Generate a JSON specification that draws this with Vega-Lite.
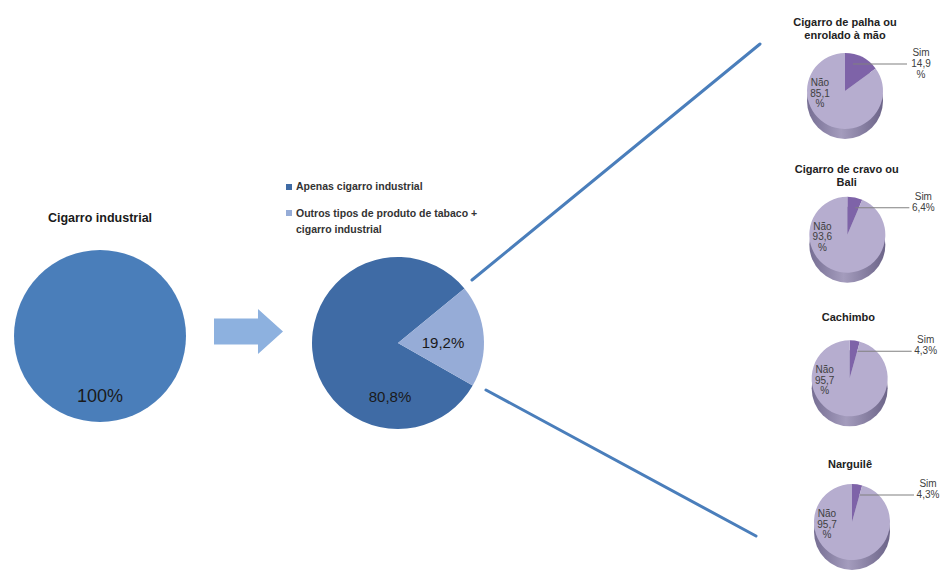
{
  "$schema": "https://vega.github.io/schema/vega-lite/v6.json",
  "width": 944,
  "height": 572,
  "autosize": {"type": "fit", "contains": "padding"},
  "padding": 0,
  "background": "#ffffff",
  "config": {"view": {"stroke": null}, "font": "Liberation Sans", "text": {"font": "Liberation Sans"}},
  "datasets": {
    "industrial": [{"categoria": "Cigarro industrial", "percentual": 100, "rotulo": "100%"}],
    "tipo": [
      {"universo": "Fumantes de cigarro industrial", "categoria": "Apenas cigarro industrial", "percentual": 80.8, "rotulo": "80,8%"},
      {"universo": "Fumantes de cigarro industrial", "categoria": "Outros tipos de produto de tabaco +\ncigarro industrial", "percentual": 19.2, "rotulo": "19,2%"}
    ],
    "outros": [
      {"produto": "Cigarro de palha ou\nenrolado à mão", "resposta": "Sim", "percentual": 14.9, "rotulo": "Sim 14,9 %"},
      {"produto": "Cigarro de palha ou\nenrolado à mão", "resposta": "Não", "percentual": 85.1, "rotulo": "Não 85,1 %"},
      {"produto": "Cigarro de cravo ou\nBali", "resposta": "Sim", "percentual": 6.4, "rotulo": "Sim 6,4%"},
      {"produto": "Cigarro de cravo ou\nBali", "resposta": "Não", "percentual": 93.6, "rotulo": "Não 93,6 %"},
      {"produto": "Cachimbo", "resposta": "Sim", "percentual": 4.3, "rotulo": "Sim 4,3%"},
      {"produto": "Cachimbo", "resposta": "Não", "percentual": 95.7, "rotulo": "Não 95,7 %"},
      {"produto": "Narguilê", "resposta": "Sim", "percentual": 4.3, "rotulo": "Sim 4,3%"},
      {"produto": "Narguilê", "resposta": "Não", "percentual": 95.7, "rotulo": "Não 95,7 %"}
    ],
    "conectores": [
      {"conector": "superior", "extremo": "origem"},
      {"conector": "superior", "extremo": "destino"},
      {"conector": "inferior", "extremo": "origem"},
      {"conector": "inferior", "extremo": "destino"}
    ]
  },
  "layer": [
    {
      "data": {"name": "industrial"},
      "encoding": {
        "x": {"field": "categoria", "type": "nominal", "axis": null, "scale": {"range": [0, 200]}},
        "y": {"field": "categoria", "type": "nominal", "axis": null, "scale": {"range": [286, 386]}}
      },
      "layer": [
        {
          "mark": {"type": "arc", "outerRadius": 86, "color": "#4A7EBA"},
          "encoding": {"theta": {"field": "percentual", "type": "quantitative"}}
        },
        {
          "mark": {"type": "text", "fontWeight": "bold", "fontSize": 12.5, "color": "#1a1a1a", "dy": -118, "baseline": "middle"},
          "encoding": {"text": {"field": "categoria"}}
        },
        {
          "mark": {"type": "text", "fontSize": 18, "color": "#1a1a1a", "dy": 61, "baseline": "middle"},
          "encoding": {"text": {"field": "rotulo"}}
        }
      ]
    },
    {
      "data": {"name": "industrial"},
      "mark": {"type": "point", "filled": true, "opacity": 1, "size": 4761, "color": "#8DB1DF",
               "shape": "M-1,-0.377L0.275,-0.377L0.275,-0.652L1,0L0.275,0.652L0.275,0.377L-1,0.377Z"},
      "encoding": {
        "x": {"field": "categoria", "type": "nominal", "axis": null, "scale": {"range": [198.5, 298.5]}},
        "y": {"field": "categoria", "type": "nominal", "axis": null, "scale": {"range": [321.5, 341.5]}}
      }
    },
    {
      "data": {"name": "tipo"},
      "mark": {"type": "arc", "outerRadius": 86},
      "encoding": {
        "x": {"field": "universo", "type": "nominal", "axis": null, "scale": {"range": [298, 498]}},
        "y": {"field": "universo", "type": "nominal", "axis": null, "scale": {"range": [293, 393]}},
        "theta": {"field": "percentual", "type": "quantitative", "stack": true, "scale": {"range": [0.883, 7.166]}},
        "order": {"field": "percentual", "type": "quantitative", "sort": "ascending"},
        "color": {"field": "categoria", "type": "nominal", "legend": null,
                  "scale": {"domain": ["Apenas cigarro industrial", "Outros tipos de produto de tabaco +\ncigarro industrial"], "range": ["#3F6BA5", "#96ACD7"]}}
      }
    },
    {
      "data": {"name": "tipo"},
      "mark": {"type": "text", "fontSize": 15, "color": "#1a1a1a", "baseline": "middle"},
      "encoding": {
        "x": {"field": "categoria", "type": "nominal", "sort": null, "axis": null, "scale": {"range": [390, 443], "padding": 0}},
        "y": {"field": "categoria", "type": "nominal", "sort": null, "axis": null, "scale": {"range": [397, 343], "padding": 0}},
        "text": {"field": "rotulo"}
      }
    },
    {
      "data": {"name": "tipo"},
      "mark": {"type": "point", "shape": "square", "filled": true, "opacity": 1, "size": 36},
      "encoding": {
        "x": {"field": "universo", "type": "nominal", "axis": null, "scale": {"range": [279, 299]}},
        "y": {"field": "categoria", "type": "nominal", "sort": null, "axis": null, "scale": {"range": [187, 213], "padding": 0}},
        "color": {"field": "categoria", "type": "nominal", "legend": null,
                  "scale": {"domain": ["Apenas cigarro industrial", "Outros tipos de produto de tabaco +\ncigarro industrial"], "range": ["#3F6BA5", "#96ACD7"]}}
      }
    },
    {
      "data": {"name": "tipo"},
      "mark": {"type": "text", "align": "left", "baseline": "middle", "fontWeight": "bold", "fontSize": 10.5, "lineHeight": 16.5, "lineBreak": "\n", "color": "#333333"},
      "encoding": {
        "x": {"field": "universo", "type": "nominal", "axis": null, "scale": {"range": [286, 306]}},
        "y": {"field": "categoria", "type": "nominal", "sort": null, "axis": null, "scale": {"range": [187, 213.5], "padding": 0}},
        "text": {"field": "categoria"}
      }
    },
    {
      "data": {"name": "conectores"},
      "transform": [{"filter": "datum.conector == 'superior'"}],
      "mark": {"type": "line", "strokeWidth": 3, "color": "#4A7EBB", "strokeCap": "round"},
      "encoding": {
        "x": {"field": "extremo", "type": "nominal", "sort": ["origem", "destino"], "axis": null, "scale": {"range": [472, 760], "padding": 0}},
        "y": {"field": "extremo", "type": "nominal", "sort": ["origem", "destino"], "axis": null, "scale": {"range": [280, 44], "padding": 0}}
      }
    },
    {
      "data": {"name": "conectores"},
      "transform": [{"filter": "datum.conector == 'inferior'"}],
      "mark": {"type": "line", "strokeWidth": 3, "color": "#4A7EBB", "strokeCap": "round"},
      "encoding": {
        "x": {"field": "extremo", "type": "nominal", "sort": ["origem", "destino"], "axis": null, "scale": {"range": [486, 756], "padding": 0}},
        "y": {"field": "extremo", "type": "nominal", "sort": ["origem", "destino"], "axis": null, "scale": {"range": [390, 536], "padding": 0}}
      }
    },
    {
      "data": {"name": "outros"},
      "transform": [{"filter": "datum.resposta == 'Sim'"}],
      "mark": {"type": "text", "fontWeight": "bold", "fontSize": 11, "lineHeight": 12.5, "lineBreak": "\n", "baseline": "middle", "color": "#222222"},
      "encoding": {
        "x": {"field": "produto", "type": "nominal", "sort": null, "axis": null, "scale": {"type": "point", "range": [845, 850], "padding": 0}},
        "y": {"field": "produto", "type": "nominal", "sort": null, "axis": null, "scale": {"type": "point", "range": [23, 465], "padding": 0}},
        "text": {"field": "produto"}
      }
    },
    {
      "data": {"name": "outros"},
      "transform": [
        {"stack": "percentual", "groupby": ["produto"], "sort": [{"field": "resposta", "order": "descending"}], "as": ["inicio", "fim"]}
      ],
      "encoding": {
        "x": {"field": "produto", "type": "nominal", "sort": null, "axis": null, "scale": {"type": "point", "range": [845, 852], "padding": 0}},
        "y": {"field": "produto", "type": "nominal", "sort": null, "axis": null, "scale": {"type": "point", "range": [91, 522], "padding": 0}}
      },
      "layer": [
        {
          "transform": [{"filter": "datum.resposta == 'Sim'"}],
          "mark": {"type": "point", "shape": "circle", "filled": true, "opacity": 1, "size": 5776, "yOffset": 10,
                   "fill": {"gradient": "linear", "x1": 0, "x2": 1, "y1": 0, "y2": 0,
                            "stops": [{"offset": 0, "color": "#766E93"}, {"offset": 0.45, "color": "#A49CBD"}, {"offset": 1, "color": "#6C6488"}]}}
        },
        {
          "mark": {"type": "arc", "outerRadius": 38},
          "encoding": {
            "theta": {"field": "inicio", "type": "quantitative", "scale": {"domain": [0, 100], "range": [0, 6.2832]}},
            "theta2": {"field": "fim"},
            "color": {"field": "resposta", "type": "nominal", "legend": null,
                      "scale": {"domain": ["Sim", "Não"], "range": ["#7E63A8", "#B6ADCF"]}}
          }
        },
        {
          "transform": [{"filter": "datum.resposta == 'Sim'"}],
          "mark": {"type": "tick", "orient": "horizontal", "color": "#808080", "opacity": 1, "size": 54, "thickness": 1, "xOffset": 35, "yOffset": -27}
        },
        {
          "transform": [{"filter": "datum.resposta == 'Não'"}],
          "mark": {"type": "text", "fontSize": 10, "lineHeight": 10.5, "lineBreak": " ", "baseline": "middle", "dx": -25, "dy": -8, "color": "#404040"},
          "encoding": {"text": {"field": "rotulo"}}
        },
        {
          "transform": [{"filter": "datum.resposta == 'Sim'"}],
          "mark": {"type": "text", "fontSize": 10, "lineHeight": 11, "lineBreak": " ", "baseline": "middle", "dx": 76, "dy": -38, "color": "#404040"},
          "encoding": {"text": {"field": "rotulo"}}
        }
      ]
    }
  ],
  "resolve": {"scale": {"x": "independent", "y": "independent", "theta": "independent", "color": "independent"}}
}
